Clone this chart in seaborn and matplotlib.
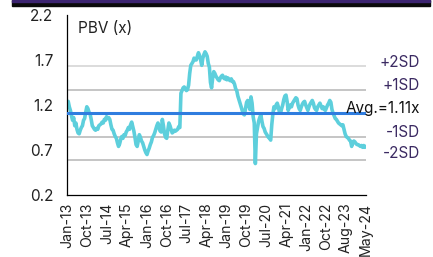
import numpy as np
import pandas as pd
import matplotlib
matplotlib.use("Agg")
import matplotlib.pyplot as plt
import seaborn as sns
from matplotlib.patches import Rectangle

# semi-monthly PBV values, Jan-2013 .. May-2024
pbv = [
    1.22, 1.24, 1.18, 1.14, 1.08, 1.03, 1.06, 0.97, 1.00, 0.93, 0.89, 0.88,
    0.92, 0.95, 0.97, 1.03, 1.05, 1.12, 1.18, 1.16, 1.12, 1.10, 1.04, 0.97,
    0.95, 0.93, 0.92, 0.94, 0.93, 0.97, 0.98, 0.99, 1.01, 1.00, 1.04, 1.03,
    1.07, 1.05, 1.06, 1.04, 0.98, 0.93, 0.92, 0.88, 0.85, 0.83, 0.78, 0.74,
    0.77, 0.82, 0.85, 0.83, 0.87, 0.86, 0.90, 0.92, 0.95, 0.93, 0.98, 1.01,
    0.96, 0.91, 0.84, 0.76, 0.74, 0.80, 0.87, 0.84, 0.80, 0.78, 0.74, 0.70,
    0.67, 0.65, 0.69, 0.72, 0.76, 0.79, 0.84, 0.86, 0.89, 0.93, 0.97, 1.00,
    0.95, 0.91, 0.90, 1.04, 0.97, 0.88, 0.84, 0.83, 0.92, 1.00, 0.97, 0.93,
    0.89, 0.90, 0.92, 0.91, 0.92, 0.93, 0.96, 0.95, 1.33, 1.36, 1.39, 1.40,
    1.38, 1.36, 1.37, 1.42, 1.55, 1.64, 1.66, 1.68, 1.72, 1.70, 1.70, 1.74,
    1.78, 1.75, 1.70, 1.64, 1.72, 1.76, 1.79, 1.77, 1.74, 1.66, 1.62, 1.45,
    1.39, 1.50, 1.57, 1.55, 1.52, 1.50, 1.48, 1.47, 1.50, 1.52, 1.53, 1.50,
    1.49, 1.51, 1.48, 1.50, 1.48, 1.47, 1.49, 1.46, 1.46, 1.43, 1.38, 1.36,
    1.30, 1.26, 1.22, 1.18, 1.14, 1.10, 1.09, 1.16, 1.23, 1.25, 1.20, 1.15,
    1.29, 1.22, 1.07, 1.00, 0.55, 0.88, 0.95, 1.02, 1.06, 1.09, 1.02, 0.96,
    0.94, 0.90, 0.88, 0.86, 0.84, 0.83, 0.81, 0.98, 1.10, 1.18, 1.16, 1.20,
    1.22, 1.18, 1.12, 1.11, 1.16, 1.20, 1.26, 1.30, 1.31, 1.24, 1.14, 1.17,
    1.20, 1.18, 1.22, 1.24, 1.26, 1.28, 1.27, 1.20, 1.16, 1.14, 1.18, 1.21,
    1.23, 1.24, 1.20, 1.17, 1.14, 1.18, 1.21, 1.23, 1.25, 1.22, 1.17, 1.15,
    1.14, 1.18, 1.20, 1.22, 1.19, 1.16, 1.18, 1.15, 1.14, 1.17, 1.20, 1.22,
    1.25, 1.23, 1.15, 1.11, 1.08, 1.05, 1.04, 1.02, 1.00, 0.99, 0.98, 0.97,
    0.98, 0.93, 0.88, 0.85, 0.84, 0.83, 0.81, 0.80, 0.74, 0.78, 0.80, 0.79,
    0.77, 0.76, 0.76, 0.75, 0.74, 0.75, 0.73, 0.75, 0.73, 0.74,
]
avg = 1.11
bands = [1.63, 1.37, 0.85, 0.59]
band_labels = ["+2SD", "+1SD", "-1SD", "-2SD"]
avg_label = "Avg.=1.11x"
x_tick_labels = ["Jan-13", "Oct-13", "Jul-14", "Apr-15", "Jan-16", "Oct-16",
                 "Jul-17", "Apr-18", "Jan-19", "Oct-19", "Jul-20", "Apr-21",
                 "Jan-22", "Oct-22", "Aug-23", "May-24"]
y_ticks = [0.2, 0.7, 1.2, 1.7, 2.2]

df = pd.DataFrame({"idx": np.arange(len(pbv)), "pbv": pbv})

sns.set_style("white")
plt.rcParams["font.family"] = ["Inter", "DejaVu Sans"]

fig = plt.figure(figsize=(4.33, 2.57), dpi=100)
ax = fig.add_axes([0.155, 0.241, 0.69, 0.701])

n = len(pbv) - 1
band_colors = ["#d9d9d9", "#c0c0c0", "#c0c0c0", "#c0c0c0"]
for v, c in zip(bands, band_colors):
    ax.axhline(v, color=c, lw=1.3, zorder=1)

sns.lineplot(data=df, x="idx", y="pbv", ax=ax, color="#5dcfdc", lw=2.6, zorder=2)
ax.axhline(avg, color="#2f7ddf", lw=2.2, zorder=3)

ax.set_xlim(0, n)
ax.set_ylim(0.2, 2.2)
ax.set_yticks(y_ticks)
ax.set_yticklabels([f"{t:.1f}" for t in y_ticks])
ax.set_xticks(np.linspace(0, n, len(x_tick_labels)))
ax.set_xticklabels(x_tick_labels, rotation=90)
ax.set_xlabel("")
ax.set_ylabel("")
for s in ["top", "right"]:
    ax.spines[s].set_visible(False)
for s in ["left", "bottom"]:
    ax.spines[s].set_color("black")
    ax.spines[s].set_linewidth(0.9)
ax.tick_params(axis="both", which="both", direction="out", length=4, width=0.8,
               color="black", labelcolor="#222222")
ax.tick_params(axis="y", pad=6, labelsize=11)
ax.tick_params(axis="x", pad=1.5, labelsize=10.2)

ax.text(0.035, 0.965, "PBV (x)", transform=ax.transAxes, fontsize=11,
        color="#222222", va="top", ha="left")

purple = "#3b2a62"
trans = ax.get_yaxis_transform()
offsets = [0.045, 0.048, 0.041, 0.067]
for v, lab, off in zip(bands, band_labels, offsets):
    ax.text(1.18, v + off, lab, transform=trans, ha="right", va="center",
            fontsize=11, color=purple, clip_on=False)
ax.text(1.18, avg + 0.052, avg_label, transform=trans, ha="right", va="center",
        fontsize=11, color="#111111", clip_on=False)

# top banner
fig.patches.append(Rectangle((12 / 433, 1 - 6 / 257), 418 / 433, 6 / 257,
                             transform=fig.transFigure, color="#0a0a0a", zorder=5))
fig.patches.append(Rectangle((12 / 433, 1 - 1.5 / 257), 418 / 433, 1.5 / 257,
                             transform=fig.transFigure, color="#3c2470", zorder=6))

fig.savefig("out.png", dpi=100)
